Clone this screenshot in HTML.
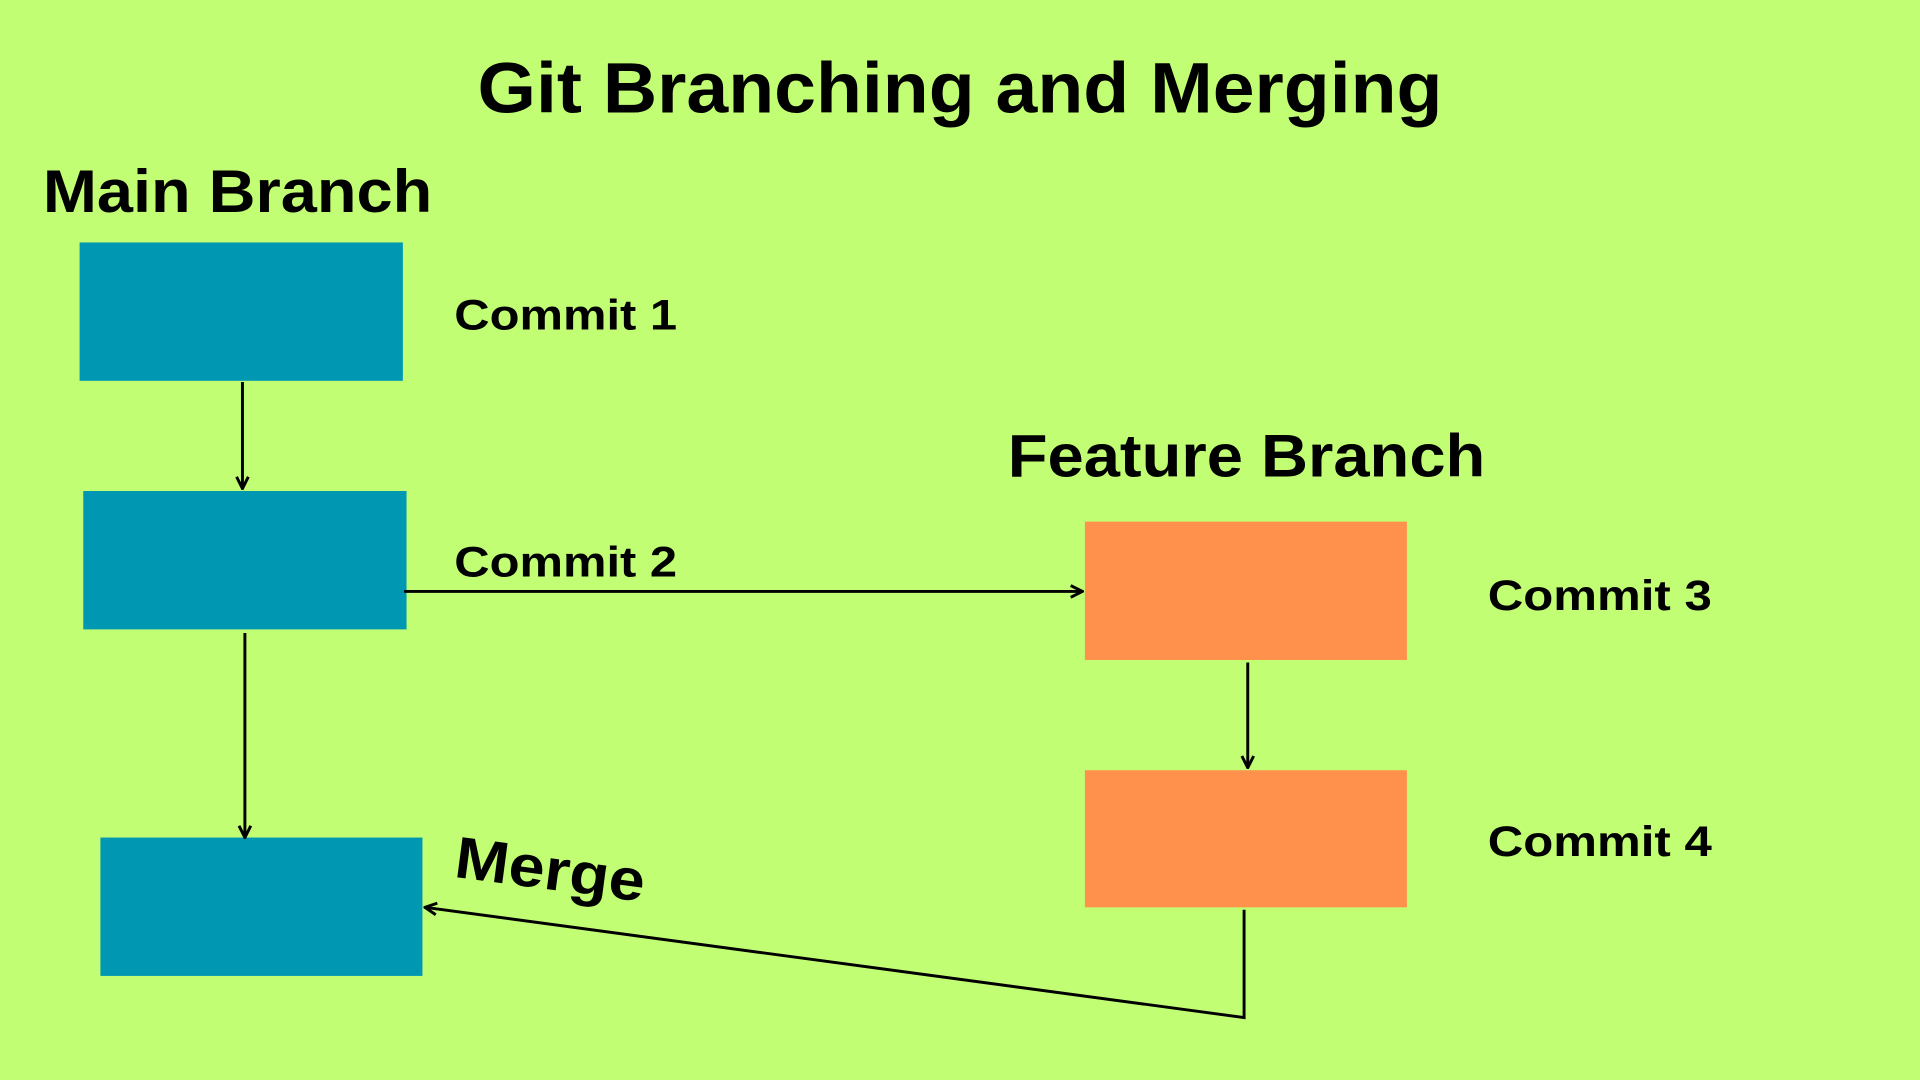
<!DOCTYPE html>
<html><head><meta charset="utf-8"><style>
html,body{margin:0;padding:0;width:1920px;height:1080px;overflow:hidden;background:#c2fe74}
svg{display:block}
text{font-family:"Liberation Sans",sans-serif;font-weight:bold;fill:#000}
</style></head><body>
<svg width="1920" height="1080" viewBox="0 0 1568 882" xmlns="http://www.w3.org/2000/svg">
<defs><marker id="a" viewBox="0 0 10 10" refX="9" refY="5" markerWidth="12" markerHeight="12" orient="auto-start-reverse" markerUnits="userSpaceOnUse"><path d="M1,1 L9,5 L1,9" fill="none" stroke="#000" stroke-width="2"/></marker></defs>
<rect width="1568" height="882" fill="#c2fe74"/>
<text x="390" y="92" font-size="58" textLength="788" lengthAdjust="spacingAndGlyphs">Git Branching and Merging</text>
<text x="35" y="173" font-size="49" textLength="318" lengthAdjust="spacingAndGlyphs">Main Branch</text>
<text x="823" y="389" font-size="49" textLength="390" lengthAdjust="spacingAndGlyphs">Feature Branch</text>
<rect x="65" y="198" width="264" height="113" fill="#0097b2"/>
<rect x="68" y="401" width="264" height="113" fill="#0097b2"/>
<rect x="82" y="684" width="263" height="113" fill="#0097b2"/>
<rect x="886" y="426" width="263" height="113" fill="#ff914d"/>
<rect x="886" y="629" width="263" height="112" fill="#ff914d"/>
<text x="371" y="269" font-size="35" textLength="182" lengthAdjust="spacingAndGlyphs">Commit 1</text>
<text x="371" y="471" font-size="35" textLength="182" lengthAdjust="spacingAndGlyphs">Commit 2</text>
<text x="1215" y="498" font-size="35" textLength="183" lengthAdjust="spacingAndGlyphs">Commit 3</text>
<text x="1215" y="699" font-size="35" textLength="183" lengthAdjust="spacingAndGlyphs">Commit 4</text>
<text x="0" y="0" font-size="48" textLength="156" lengthAdjust="spacingAndGlyphs" transform="translate(370,716) rotate(7.5)">Merge</text>
<g stroke="#000" stroke-width="2.4" fill="none">
<line x1="198" y1="312" x2="198" y2="399" marker-end="url(#a)"/>
<line x1="330" y1="483" x2="884" y2="483" marker-end="url(#a)"/>
<line x1="200" y1="517" x2="200" y2="684" marker-end="url(#a)"/>
<line x1="1019" y1="541" x2="1019" y2="627" marker-end="url(#a)"/>
<polyline points="1016,743 1016,831 347,741" marker-end="url(#a)"/>
</g>
</svg>
</body></html>
